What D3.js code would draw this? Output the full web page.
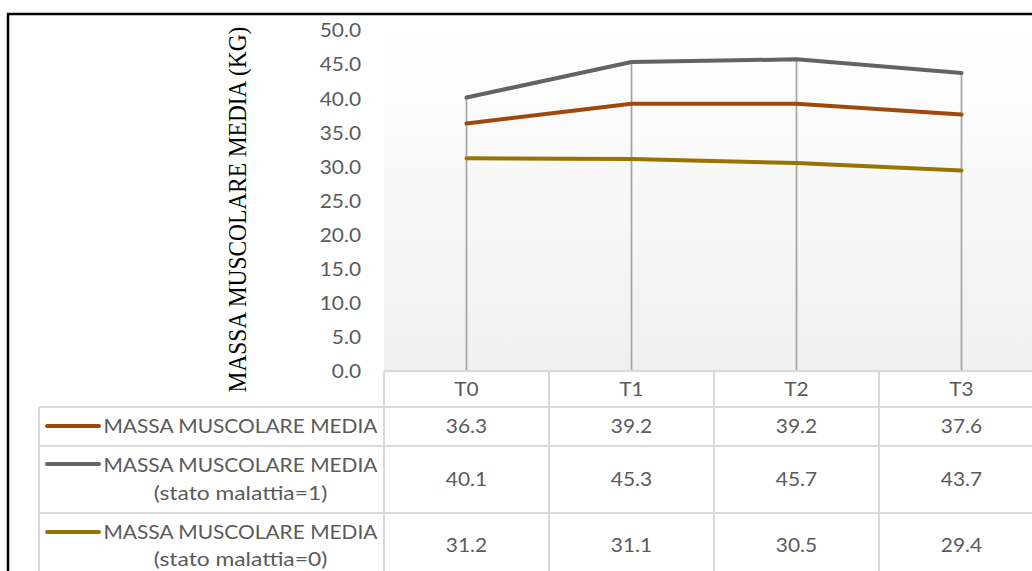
<!DOCTYPE html>
<html>
<head>
<meta charset="utf-8">
<script src="https://cdn.jsdelivr.net/npm/d3@7"></script>
<style>
  html, body { margin: 0; padding: 0; background: #ffffff; }
  svg { display: block; }
</style>
</head>
<body>
<svg id="chart" width="1032" height="571"></svg>
<script>
// Mean muscle mass per time point, with a data table under the plot
const categories = ["T0", "T1", "T2", "T3"];
const seriesNames = [
  ["MASSA MUSCOLARE MEDIA"],
  ["MASSA MUSCOLARE MEDIA", "(stato malattia=1)"],
  ["MASSA MUSCOLARE MEDIA", "(stato malattia=0)"]
];
const massaMedia = [36.3, 39.2, 39.2, 37.6];
const massaMalattia1 = [40.1, 45.3, 45.7, 43.7];
const massaMalattia0 = [31.2, 31.1, 30.5, 29.4];
const seriesColors = ["#9e480e", "#636363", "#997300"];
const yTicks = [0, 5, 10, 15, 20, 25, 30, 35, 40, 45, 50];
const yTitle = "MASSA MUSCOLARE MEDIA (KG)";

const series = [massaMedia, massaMalattia1, massaMalattia0];

const svg = d3.select("#chart");
const textColor = "#5a5a5a";
const gridColor = "#d9d9d9";
const sansFont = "Lato, 'Open Sans', sans-serif";
const stretch = 1.1;

// layout
const plot = { left: 384, top: 30, bottom: 371 };
const band = 165;
const x = d3.scaleBand().domain(categories).range([plot.left, plot.left + band * categories.length]).padding(0);
const y = d3.scaleLinear().domain([0, 50]).range([plot.bottom, plot.top]);
const cx = c => x(c) + x.bandwidth() / 2;

// widen horizontal text slightly
function widen(sel, k = stretch) {
  sel.each(function () {
    const w = this.getComputedTextLength();
    d3.select(this).attr("textLength", w * k).attr("lengthAdjust", "spacingAndGlyphs");
  });
}

// plot background gradient
const defs = svg.append("defs");
const grad = defs.append("linearGradient").attr("id", "plotBg").attr("x1", 0).attr("y1", 0).attr("x2", 0).attr("y2", 1);
grad.append("stop").attr("offset", "0%").attr("stop-color", "#ffffff");
grad.append("stop").attr("offset", "100%").attr("stop-color", "#f0f0f0");

svg.append("rect")
  .attr("x", plot.left).attr("y", plot.top)
  .attr("width", band * categories.length).attr("height", plot.bottom - plot.top)
  .attr("fill", "url(#plotBg)");

// y axis tick labels
const yAxis = d3.axisLeft(y).tickValues(yTicks).tickFormat(d3.format(".1f")).tickSize(0).tickPadding(0);
const yG = svg.append("g").attr("transform", "translate(361,0)").call(yAxis);
yG.select(".domain").remove();
yG.selectAll("text")
  .attr("x", 0).attr("dy", "0.36em")
  .attr("fill", textColor).style("font-family", sansFont).style("font-size", "19px")
  .call(widen);

// y axis title (slightly condensed along its length)
svg.append("text")
  .attr("transform", `translate(246,${(25 + 394) / 2}) rotate(-90) scale(0.9,1)`)
  .attr("text-anchor", "middle")
  .style("font-family", "'Liberation Serif', 'Times New Roman', serif")
  .style("font-size", "26px")
  .attr("fill", "#000000")
  .text(yTitle);

// drop lines from the highest point to the axis
svg.append("g").selectAll("line")
  .data(categories.map((c, i) => ({ c, top: d3.max(series, s => s[i]) })))
  .join("line")
  .attr("x1", d => cx(d.c)).attr("x2", d => cx(d.c))
  .attr("y1", d => y(d.top)).attr("y2", plot.bottom)
  .attr("stroke", "#a6a6a6").attr("stroke-width", 1.75);

// series lines
const line = d3.line().x((d, i) => cx(categories[i])).y(d => y(d));
svg.append("g").selectAll("path")
  .data(series)
  .join("path")
  .attr("d", d => line(d))
  .attr("fill", "none")
  .attr("stroke", (d, i) => seriesColors[i])
  .attr("stroke-width", 4)
  .attr("stroke-linejoin", "round")
  .attr("stroke-linecap", "round");

// data table
const rows = [
  { top: 407, bottom: 446 },
  { top: 446, bottom: 513 },
  { top: 513, bottom: 580 }
];
const tableLeft = 39;
const tableRight = plot.left + band * categories.length;
const tg = svg.append("g").attr("stroke", gridColor).attr("stroke-width", 2);

// header row frame
tg.append("line").attr("x1", plot.left).attr("x2", tableRight).attr("y1", plot.bottom).attr("y2", plot.bottom);
// row separators
rows.forEach(r => {
  tg.append("line").attr("x1", tableLeft).attr("x2", tableRight).attr("y1", r.top).attr("y2", r.top);
});
// column separators
const colEdges = categories.map(c => x(c)).concat([tableRight]);
colEdges.forEach(xe => {
  tg.append("line").attr("x1", xe).attr("x2", xe).attr("y1", plot.bottom).attr("y2", 580);
});
tg.append("line").attr("x1", tableLeft).attr("x2", tableLeft).attr("y1", rows[0].top).attr("y2", 580);

// category labels
svg.append("g").selectAll("text")
  .data(categories)
  .join("text")
  .attr("x", d => cx(d)).attr("y", (plot.bottom + rows[0].top) / 2)
  .attr("dy", "0.36em").attr("text-anchor", "middle")
  .attr("fill", textColor).style("font-family", sansFont).style("font-size", "19px")
  .text(d => d)
  .call(widen);

// values
series.forEach((s, si) => {
  const r = rows[si];
  svg.append("g").selectAll("text")
    .data(s)
    .join("text")
    .attr("x", (d, i) => cx(categories[i])).attr("y", (r.top + r.bottom) / 2 + (si === 2 ? -1 : 0))
    .attr("dy", "0.36em").attr("text-anchor", "middle")
    .attr("fill", textColor).style("font-family", sansFont).style("font-size", "19px")
    .text(d => d3.format(".1f")(d))
    .call(widen);
});

// legend keys and series names
const legendTextX = 240.5;
const legendLineY = [426, 464, 532];
const legendTextY = [[426], [465, 493], [532, 559]];
seriesNames.forEach((names, si) => {
  svg.append("line")
    .attr("x1", 47).attr("x2", 99)
    .attr("y1", legendLineY[si]).attr("y2", legendLineY[si])
    .attr("stroke", seriesColors[si]).attr("stroke-width", 4).attr("stroke-linecap", "round");
  names.forEach((t, li) => {
    svg.append("text")
      .attr("x", legendTextX).attr("y", legendTextY[si][li])
      .attr("dy", "0.36em").attr("text-anchor", "middle")
      .attr("fill", textColor).style("font-family", sansFont).style("font-size", "19px")
      .text(t)
      .call(widen, li === 0 ? stretch : 1.2);
  });
});

// outer chart border
svg.append("rect")
  .attr("x", 8).attr("y", 14)
  .attr("width", 1100).attr("height", 700)
  .attr("fill", "none").attr("stroke", "#000000").attr("stroke-width", 2.5);
</script>
</body>
</html>
